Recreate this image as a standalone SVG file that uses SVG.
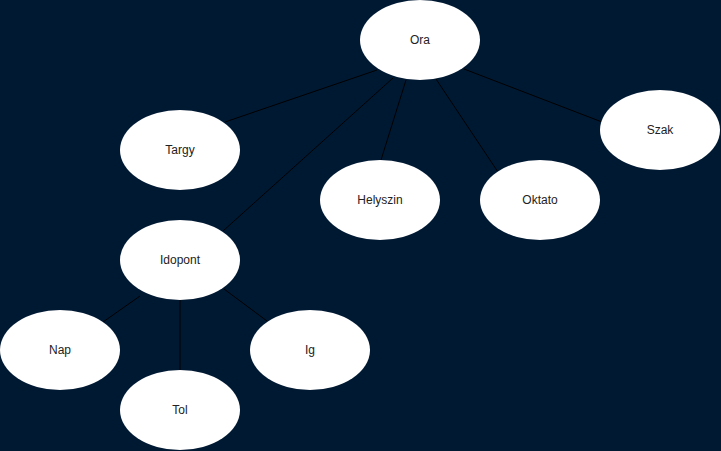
<svg xmlns="http://www.w3.org/2000/svg" width="721" height="451" viewBox="0 0 721 451">
<style>
.n ellipse{fill:#ffffff;stroke:none}
.n text{font-family:"Liberation Sans",Arial,sans-serif;font-size:12px;fill:#222222;text-anchor:middle;dominant-baseline:central}
.e line{stroke:#000000;stroke-width:1}
</style>
<rect x="0" y="0" width="721" height="451" fill="#001933"/>
<g id="connectors" class="e">
<line x1="377" y1="70" x2="225" y2="122"/>
<line x1="393" y1="78" x2="223" y2="231"/>
<line x1="406" y1="80" x2="381" y2="160"/>
<line x1="436" y1="79" x2="498" y2="172"/>
<line x1="464" y1="69" x2="602" y2="122"/>
<line x1="140" y1="296" x2="103" y2="322"/>
<line x1="180" y1="300" x2="180" y2="371"/>
<line x1="224" y1="289" x2="267" y2="321"/>
</g>
<g id="ora" class="n"><ellipse cx="420" cy="40" rx="60" ry="40"/><text x="420" y="40">Ora</text></g>
<g id="targy" class="n"><ellipse cx="180" cy="150" rx="60" ry="40"/><text x="180" y="150">Targy</text></g>
<g id="helyszin" class="n"><ellipse cx="380" cy="200" rx="60" ry="40"/><text x="380" y="200">Helyszin</text></g>
<g id="oktato" class="n"><ellipse cx="540" cy="200" rx="60" ry="40"/><text x="540" y="200">Oktato</text></g>
<g id="szak" class="n"><ellipse cx="660" cy="130" rx="60" ry="40"/><text x="660" y="130">Szak</text></g>
<g id="idopont" class="n"><ellipse cx="180" cy="260" rx="60" ry="40"/><text x="180" y="260">Idopont</text></g>
<g id="nap" class="n"><ellipse cx="60" cy="350" rx="60" ry="40"/><text x="60" y="350">Nap</text></g>
<g id="tol" class="n"><ellipse cx="180" cy="410" rx="60" ry="40"/><text x="180" y="410">Tol</text></g>
<g id="ig" class="n"><ellipse cx="310" cy="350" rx="60" ry="40"/><text x="310" y="350">Ig</text></g>
</svg>
